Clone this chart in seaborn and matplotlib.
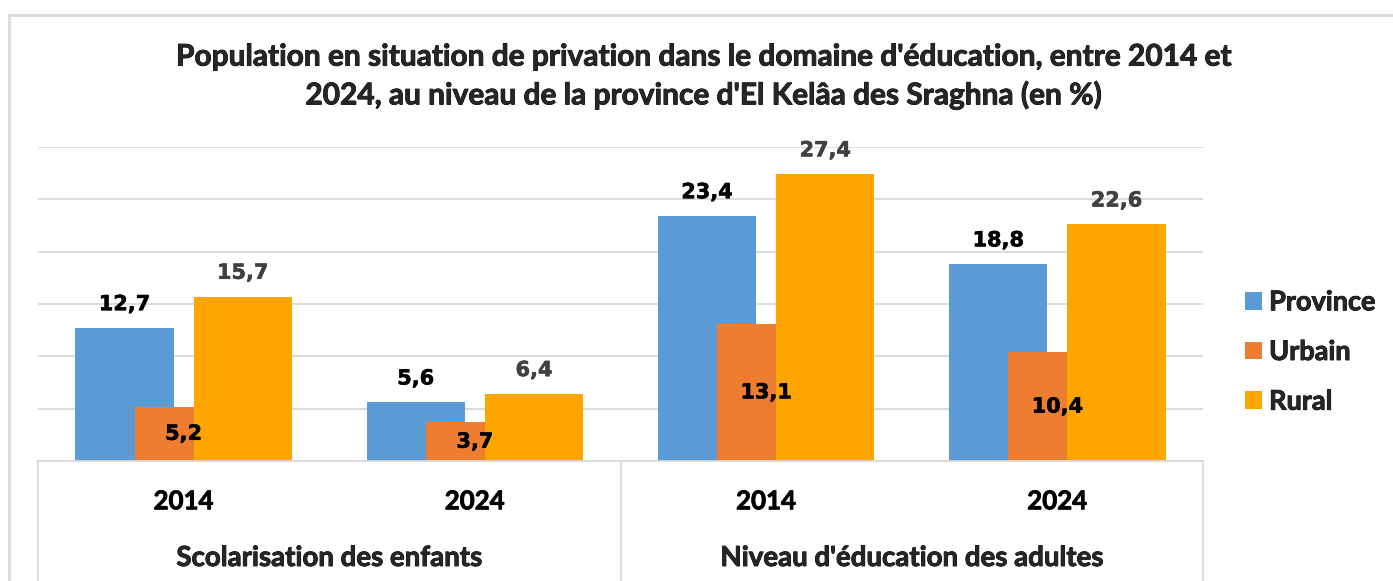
import matplotlib
matplotlib.use("Agg")
import matplotlib.pyplot as plt
import matplotlib.patheffects as pe
import seaborn as sns
import pandas as pd
from matplotlib.lines import Line2D
from matplotlib.patches import Patch

# ---- data ----
groups = ["Scolarisation des enfants", "Niveau d'éducation des adultes"]
years = ["2014", "2024", "2014", "2024"]
categories = ["Scol 2014", "Scol 2024", "Adul 2014", "Adul 2024"]
series = ["Province", "Urbain", "Rural"]
province = [12.7, 5.6, 23.4, 18.8]
urbain = [5.2, 3.7, 13.1, 10.4]
rural = [15.7, 6.4, 27.4, 22.6]
title = ("Population en situation de privation dans le domaine d'éducation, entre 2014 et\n"
         "2024, au niveau de la province d'El Kelâa des Sraghna (en %)")

colors = ["#5B9BD5", "#ED7D31", "#FFA500"]
grid_col = "#D9D9D9"

df = pd.DataFrame({
    "cat": categories * 3,
    "serie": [s for s in series for _ in categories],
    "val": province + urbain + rural,
})

sns.set_theme(style="white")
plt.rcParams["font.family"] = ["Lato", "DejaVu Sans"]

heavy = [pe.withStroke(linewidth=0.6, foreground="black")]

W, H = 1393, 581
fig = plt.figure(figsize=(W / 100, H / 100), dpi=100)
ax = fig.add_axes([38 / W, 120 / H, 1165 / W, 314 / H])

sns.barplot(data=df, x="cat", y="val", hue="serie", order=categories,
            hue_order=series, palette=colors, width=0.609, gap=-0.66,
            saturation=1, errorbar=None, legend=False, ax=ax, zorder=2,
            linewidth=0, edgecolor="none")

ax.set_xlim(-0.5, 3.5)
ax.set_ylim(0, 30)
ax.set_yticks(range(0, 31, 5))
ax.set_yticklabels([])
ax.tick_params(axis="y", length=0)
ax.yaxis.grid(True, color=grid_col, linewidth=1.3, zorder=0)
ax.set_axisbelow(True)
for s in ["left", "right", "top"]:
    ax.spines[s].set_visible(False)
ax.spines["bottom"].set_color(grid_col)
ax.spines["bottom"].set_linewidth(1.3)
ax.set_xlabel("")
ax.set_ylabel("")

ax.set_xticks(range(4))
ax.set_xticklabels(years, fontsize=18.6, fontweight="bold", color="black")
ax.tick_params(axis="x", length=0, pad=29)
for lab in ax.get_xticklabels():
    lab.set_va("center")
    lab.set_path_effects(heavy)

# data labels
fmt = lambda v: f"{v:.1f}".replace(".", ",")
lab_font = dict(family="DejaVu Sans", fontweight="bold", fontsize=15)
conts = ax.containers
t0 = ax.bar_label(conts[0], labels=[fmt(v) for v in province], padding=10,
                  color="black", **lab_font)
t1 = ax.bar_label(conts[1], labels=[fmt(v) for v in urbain], label_type="center",
                  color="black", zorder=5, **lab_font)
t2 = ax.bar_label(conts[2], labels=[fmt(v) for v in rural], padding=10,
                  color="#404040", **lab_font)
for t in t0 + t1:
    t.set_path_effects([pe.withStroke(linewidth=0.4, foreground="black")])
for t in t2:
    t.set_path_effects([pe.withStroke(linewidth=0.4, foreground="#404040")])

# multi-level axis separators
for xf in [0, 0.5, 1]:
    ax.add_line(Line2D([xf, xf], [0, -120 / 314], transform=ax.transAxes,
                       color=grid_col, lw=1.3, clip_on=False))
for i, g in enumerate(groups):
    ax.text(0.25 + 0.5 * i, -97 / 314, g, transform=ax.transAxes,
            ha="center", va="center", fontsize=19.9, fontweight="bold",
            path_effects=heavy)

# legend
handles = [Patch(facecolor=c, edgecolor="none") for c in colors]
leg = fig.legend(handles, series, loc="center left",
                 bbox_to_anchor=(1245 / W, 1 - 352 / H), frameon=False,
                 prop=dict(family="Lato", weight="bold", size=19.5),
                 handlelength=0.63, handleheight=0.63, handletextpad=0.26,
                 labelspacing=0.95, borderpad=0, borderaxespad=0)
for t in leg.get_texts():
    t.set_path_effects(heavy)

# title
fig.text(704 / W, 1 - 76 / H, title, ha="center", va="center",
         fontsize=21.5, fontweight="bold", linespacing=1.4,
         path_effects=heavy)

# outer chart border
fig.add_artist(Line2D([9 / W, 1], [1 - 15 / H] * 2, transform=fig.transFigure,
                      color=grid_col, lw=2))
fig.add_artist(Line2D([9 / W, 9 / W], [0, 1 - 15 / H], transform=fig.transFigure,
                      color=grid_col, lw=2))

fig.savefig("out.png", dpi=100)
